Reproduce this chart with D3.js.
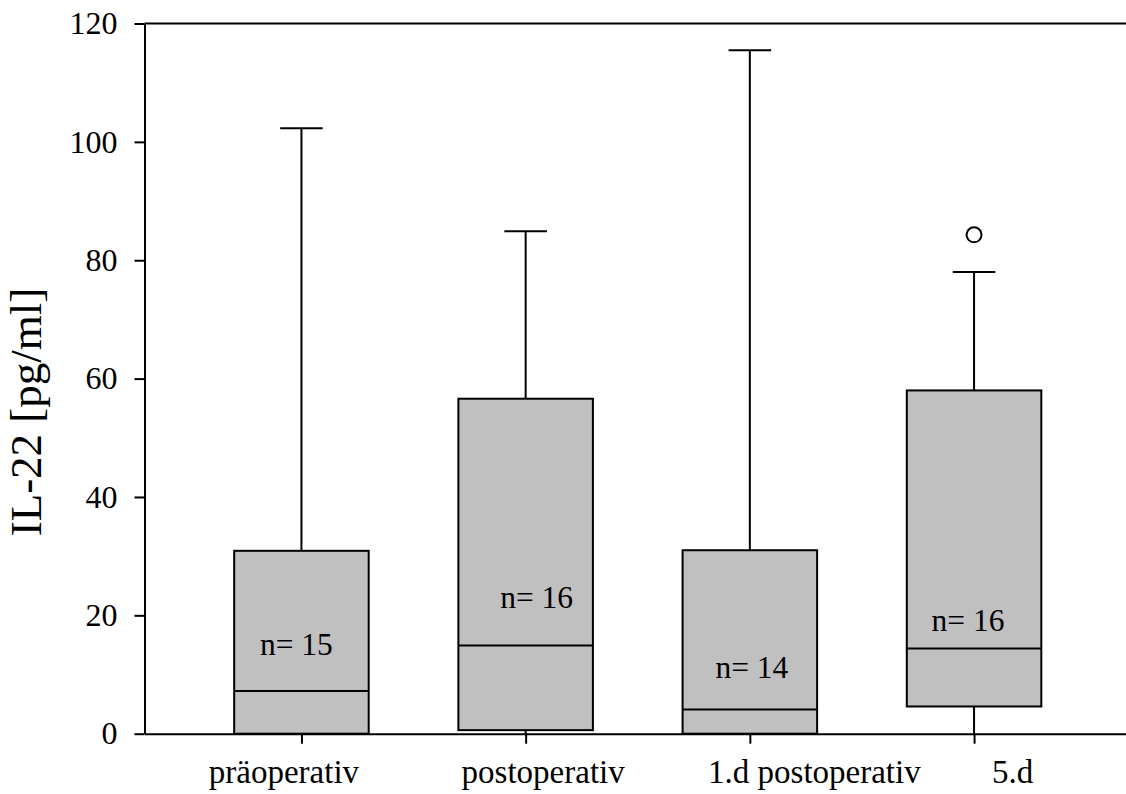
<!DOCTYPE html>
<html>
<head>
<meta charset="utf-8">
<script src="https://cdn.jsdelivr.net/npm/d3@7"></script>
<style>
  body { margin: 0; background: #fff; }
  svg { display: block; }
</style>
</head>
<body>
<div id="chart-container"></div>
<script>
// box plot values (pg/ml)
const categories = ['präoperativ', 'postoperativ', '1.d postoperativ', '5.d'];
const lowerWhisker = [0, 0, 0, 0];
const q1 = [0, 0.6, 0, 4.6];
const median = [7.2, 14.9, 4.1, 14.4];
const q3 = [30.9, 56.6, 31.0, 58.0];
const upperWhisker = [102.3, 84.9, 115.5, 78.0];
const outliers = [[], [], [], [84.3]];
const nCounts = [15, 16, 14, 16];
const yTicks = [0, 20, 40, 60, 80, 100, 120];

// layout only
const width = 1126;
const height = 794;
const plotLeft = 144.5;
const plotTop = 23.5;
const plotBottom = 733.7;
const serif = '"Liberation Serif", "Times New Roman", serif';
const boxWidth = 0.6;
const capWidth = 0.19;
const labelShift = [-18, 17, 64, 38];
const nLabelAt = [13.3, 21.3, 9.4, 17.4];
const nLabelShift = [-5, 11, 2, -6];

const boxes = categories.map((c, i) => ({
  name: c,
  pos: i + 1,
  lo: lowerWhisker[i],
  q1: q1[i],
  med: median[i],
  q3: q3[i],
  hi: upperWhisker[i],
  out: outliers[i],
  n: nCounts[i]
}));

const x = d3.scaleLinear()
  .domain([0.3, 4.7])
  .range([plotLeft, 1131]);

const y = d3.scaleLinear()
  .domain([0, 120])
  .range([plotBottom, plotTop]);

const svg = d3.select('#chart-container')
  .append('svg')
  .attr('width', width)
  .attr('height', height)
  .style('overflow', 'hidden')
  .attr('font-family', serif);

const boxGroup = svg.append('g').attr('id', 'boxes');

const box = boxGroup.selectAll('g')
  .data(boxes)
  .enter()
  .append('g')
  .attr('class', 'box');

// whiskers
box.append('line')
  .attr('x1', d => x(d.pos))
  .attr('x2', d => x(d.pos))
  .attr('y1', d => y(d.q3))
  .attr('y2', d => y(d.hi))
  .attr('stroke', '#000')
  .attr('stroke-width', 2);

box.append('line')
  .attr('x1', d => x(d.pos))
  .attr('x2', d => x(d.pos))
  .attr('y1', d => y(d.q1))
  .attr('y2', d => y(d.lo))
  .attr('stroke', '#000')
  .attr('stroke-width', 2);

box.append('line')
  .attr('x1', d => x(d.pos - capWidth / 2))
  .attr('x2', d => x(d.pos + capWidth / 2))
  .attr('y1', d => y(d.hi))
  .attr('y2', d => y(d.hi))
  .attr('stroke', '#000')
  .attr('stroke-width', 2);

box.append('rect')
  .attr('x', d => x(d.pos - boxWidth / 2))
  .attr('width', d => x(d.pos + boxWidth / 2) - x(d.pos - boxWidth / 2))
  .attr('y', d => y(d.q3))
  .attr('height', d => y(d.q1) - y(d.q3))
  .attr('fill', '#c0c0c0')
  .attr('stroke', '#000')
  .attr('stroke-width', 2);

box.append('line')
  .attr('x1', d => x(d.pos - boxWidth / 2))
  .attr('x2', d => x(d.pos + boxWidth / 2))
  .attr('y1', d => y(d.med))
  .attr('y2', d => y(d.med))
  .attr('stroke', '#000')
  .attr('stroke-width', 2);

box.selectAll('circle')
  .data(d => d.out.map(v => ({pos: d.pos, v: v})))
  .enter()
  .append('circle')
  .attr('cx', d => x(d.pos))
  .attr('cy', d => y(d.v))
  .attr('r', 7.5)
  .attr('fill', 'none')
  .attr('stroke', '#000')
  .attr('stroke-width', 2);

box.append('text')
  .text(d => `n= ${d.n}`)
  .attr('x', (d, i) => x(d.pos) + nLabelShift[i])
  .attr('y', (d, i) => y(nLabelAt[i]))
  .attr('text-anchor', 'middle')
  .attr('font-size', 31.5)
  .attr('fill', '#000');

// axes
const xAxis = svg.append('g')
  .attr('transform', `translate(0, ${plotBottom})`)
  .call(d3.axisBottom(x)
    .tickValues(boxes.map(d => d.pos))
    .tickSize(10)
    .tickSizeOuter(0)
    .tickFormat(p => categories[p - 1]))
  .attr('font-family', serif)
  .attr('font-size', 33);

xAxis.selectAll('text')
  .attr('fill', '#000')
  .attr('y', 49)
  .attr('dy', 0)
  .attr('dx', (d, i) => labelShift[i]);

const yAxis = svg.append('g')
  .attr('transform', `translate(${plotLeft}, 0)`)
  .call(d3.axisLeft(y)
    .tickValues(yTicks)
    .tickSize(10)
    .tickSizeOuter(0)
    .tickPadding(17))
  .attr('font-family', serif)
  .attr('font-size', 32);

yAxis.selectAll('text')
  .attr('fill', '#000');

svg.selectAll('.domain, .tick line')
  .attr('stroke', '#000')
  .attr('stroke-width', 2);

// top frame line
svg.append('line')
  .attr('x1', x.range()[0])
  .attr('x2', x.range()[1])
  .attr('y1', y(120))
  .attr('y2', y(120))
  .attr('stroke', '#000')
  .attr('stroke-width', 2);

svg.append('text')
  .text('IL-22 [pg/ml]')
  .attr('transform', `translate(${41}, ${412}) rotate(-90)`)
  .attr('text-anchor', 'middle')
  .attr('font-size', 45)
  .attr('fill', '#000');
</script>
</body>
</html>
